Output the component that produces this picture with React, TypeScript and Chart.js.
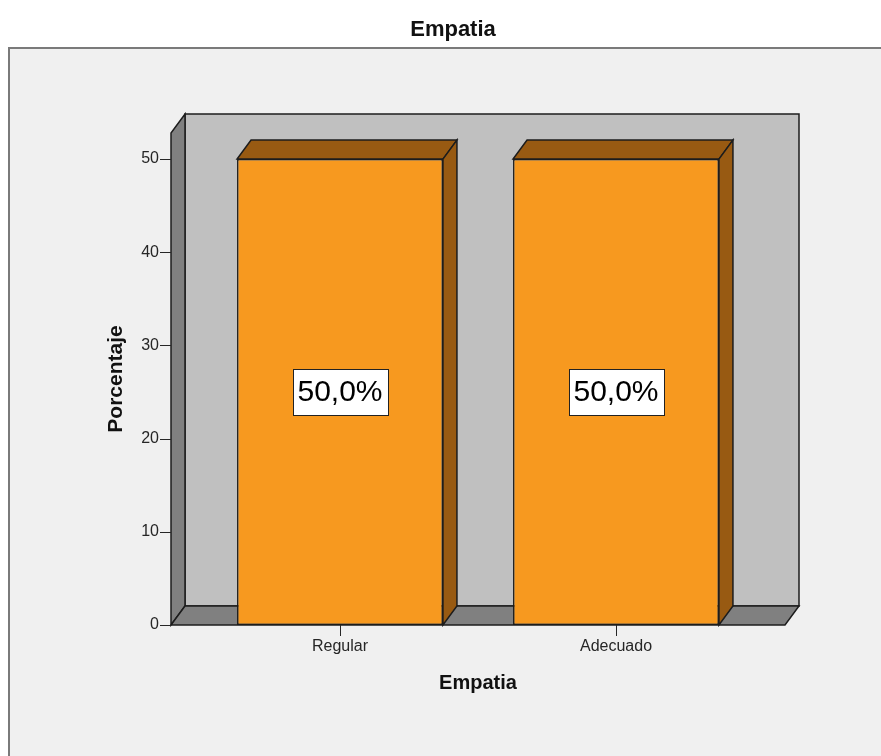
import { useEffect, useRef } from 'react';
import { Chart, registerables } from 'chart.js';

Chart.register(...registerables);

// Data
const categories = ['Regular', 'Adecuado'];
const percentages = [50, 50];
const yTickStep = 10;
const Y_MAX = 52.8;
const chartTitle = 'Empatia';
const xAxisTitle = 'Empatia';
const yAxisTitle = 'Porcentaje';

// Styling
const FONT = '"Liberation Sans", Arial, Helvetica, sans-serif';
const DEPTH_X = 14;
const DEPTH_Y = 19;
const BOX_PAD = 31;
const ORANGE = '#F7991F';
const ORANGE_DARK = '#985A12';
const WALL = '#C0C0C0';
const WALL_DARK = '#808080';
const EDGE = '#1c1c1c';
const TEXT = '#262626';

const formatPct = (v: number) => v.toFixed(1).replace('.', ',') + '%';

function poly(ctx: CanvasRenderingContext2D, pts: number[][], fill: string) {
  ctx.beginPath();
  ctx.moveTo(pts[0][0], pts[0][1]);
  for (let i = 1; i < pts.length; i++) ctx.lineTo(pts[i][0], pts[i][1]);
  ctx.closePath();
  ctx.fillStyle = fill;
  ctx.fill();
  ctx.strokeStyle = EDGE;
  ctx.lineWidth = 1.5;
  ctx.lineJoin = 'miter';
  ctx.stroke();
}

// Page backdrop, grey panel and the main heading
const backdropPlugin = {
  id: 'backdrop',
  beforeDraw(chart: any) {
    const { ctx, width, height } = chart;
    ctx.save();
    ctx.fillStyle = '#ffffff';
    ctx.fillRect(0, 0, width, height);
    ctx.fillStyle = '#F0F0F0';
    ctx.fillRect(9, 48, width - 9, height - 48);
    ctx.strokeStyle = '#7a7a7a';
    ctx.lineWidth = 2;
    ctx.beginPath();
    ctx.moveTo(9, height);
    ctx.lineTo(9, 48);
    ctx.lineTo(width, 48);
    ctx.stroke();
    ctx.fillStyle = '#111';
    ctx.font = `bold 22px ${FONT}`;
    ctx.textAlign = 'center';
    ctx.textBaseline = 'middle';
    ctx.fillText(chartTitle, 453, 30);
    ctx.restore();
  },
};

// Back wall, side wall, floor and tick marks of the 3D frame
const boxPlugin = {
  id: 'box3d',
  beforeDatasetsDraw(chart: any) {
    const { ctx, chartArea, scales } = chart;
    const yS = scales.y;
    const xS = scales.x;
    const L = chartArea.left - BOX_PAD;
    const R = chartArea.right + BOX_PAD;
    const T = chartArea.top;
    const B = yS.getPixelForValue(0);
    ctx.save();
    poly(ctx, [[L + DEPTH_X, T - DEPTH_Y], [R + DEPTH_X, T - DEPTH_Y], [R + DEPTH_X, B - DEPTH_Y], [L + DEPTH_X, B - DEPTH_Y]], WALL);
    poly(ctx, [[L, B], [L, T], [L + DEPTH_X, T - DEPTH_Y], [L + DEPTH_X, B - DEPTH_Y]], WALL_DARK);
    poly(ctx, [[L, B], [R, B], [R + DEPTH_X, B - DEPTH_Y], [L + DEPTH_X, B - DEPTH_Y]], WALL_DARK);

    ctx.strokeStyle = TEXT;
    ctx.lineWidth = 1;
    ctx.beginPath();
    yS.ticks.forEach((t: any) => {
      const py = Math.round(yS.getPixelForValue(t.value)) + 0.5;
      ctx.moveTo(L - 11, py);
      ctx.lineTo(L, py);
    });
    categories.forEach((_, i) => {
      const px = Math.round(xS.getPixelForValue(i)) + 0.5;
      ctx.moveTo(px, B);
      ctx.lineTo(px, B + 11);
    });
    ctx.stroke();
    ctx.restore();
  },
  afterDatasetsDraw(chart: any) {
    const { ctx, scales } = chart;
    const yS = scales.y;
    const meta = chart.getDatasetMeta(0);
    ctx.save();
    meta.data.forEach((bar: any, i: number) => {
      const { x, y, base, width } = bar.getProps(['x', 'y', 'base', 'width'], true);
      const l = x - width / 2;
      const r = x + width / 2;
      // top face
      poly(ctx, [[l, y], [r, y], [r + DEPTH_X, y - DEPTH_Y], [l + DEPTH_X, y - DEPTH_Y]], ORANGE_DARK);
      // right side face
      poly(ctx, [[r, y], [r + DEPTH_X, y - DEPTH_Y], [r + DEPTH_X, base - DEPTH_Y], [r, base]], ORANGE_DARK);

      // value label in a white box at the middle of the bar
      const v = percentages[i];
      const text = formatPct(v);
      const cy = yS.getPixelForValue(v / 2);
      ctx.font = `30px ${FONT}`;
      const tw = ctx.measureText(text).width;
      const bw = Math.round(tw + 10);
      const bh = 46;
      const bx = Math.round(x - bw / 2) + 0.5;
      const by = Math.round(cy - bh / 2) + 0.5;
      ctx.fillStyle = '#ffffff';
      ctx.fillRect(bx, by, bw, bh);
      ctx.strokeStyle = '#222';
      ctx.lineWidth = 1;
      ctx.strokeRect(bx, by, bw, bh);
      ctx.fillStyle = '#000';
      ctx.textAlign = 'center';
      ctx.textBaseline = 'middle';
      ctx.fillText(text, x, cy + 1);
    });
    ctx.restore();
  },
};

export default function App() {
  const ref = useRef<HTMLCanvasElement | null>(null);

  useEffect(() => {
    if (!ref.current) return;
    const chart = new Chart(ref.current, {
      type: 'bar',
      data: {
        labels: categories,
        datasets: [
          {
            data: percentages,
            backgroundColor: ORANGE,
            borderColor: EDGE,
            borderWidth: 1.5,
            borderSkipped: false,
            barPercentage: 0.746,
            categoryPercentage: 1,
          },
        ],
      },
      options: {
        animation: false,
        responsive: true,
        maintainAspectRatio: false,
        devicePixelRatio: 1,
        layout: { padding: { left: 0, top: 133, right: 127, bottom: 0 } },
        plugins: {
          legend: { display: false },
          tooltip: { enabled: false },
          title: { display: false },
        },
        scales: {
          x: {
            grid: { display: false, drawTicks: false },
            border: { display: false },
            ticks: { color: TEXT, font: { family: FONT, size: 16 }, padding: 12 },
            title: {
              display: true,
              text: xAxisTitle,
              color: '#111',
              font: { family: FONT, size: 20, weight: 'bold' },
              padding: { top: 0, bottom: 61 },
            },
            afterFit: (scale: any) => {
              scale.height = 131;
            },
          },
          y: {
            min: 0,
            max: Y_MAX,
            grid: { display: false, drawTicks: false },
            border: { display: false },
            ticks: { stepSize: yTickStep, color: TEXT, font: { family: FONT, size: 16 }, padding: 43 },
            afterBuildTicks: (scale: any) => {
              scale.ticks = scale.ticks.filter((t: any) => t.value % yTickStep === 0);
            },
            title: {
              display: true,
              text: yAxisTitle,
              color: '#111',
              font: { family: FONT, size: 21, weight: 'bold' },
              padding: { top: 104, bottom: 0 },
            },
            afterFit: (scale: any) => {
              scale.width = 202;
            },
          },
        },
      },
      plugins: [backdropPlugin, boxPlugin],
    } as any);
    return () => chart.destroy();
  }, []);

  return (
    <div style={{ position: 'fixed', left: 0, top: 0, width: 881, height: 756 }}>
      <canvas ref={ref} />
    </div>
  );
}
